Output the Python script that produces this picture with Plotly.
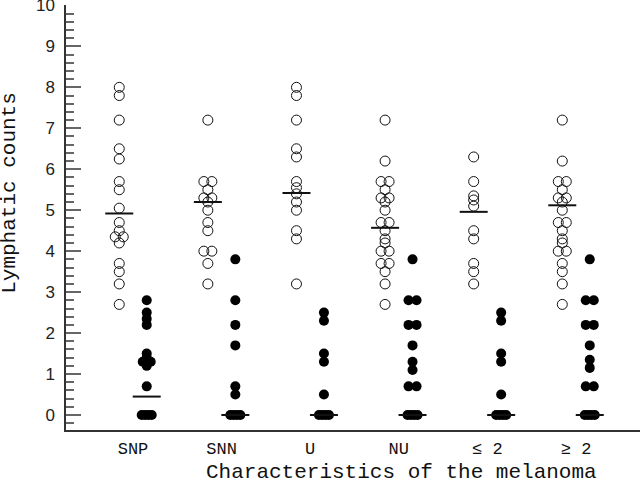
import plotly.graph_objects as go

categories = ["SNP", "SNN", "U", "NU", "≤ 2", "≥ 2"]

snp_open = [8.0, 7.8, 7.2, 6.5, 6.25, 5.7, 5.5, 5.05, 4.7, 4.5, 4.35, 4.35, 4.2, 3.7, 3.5, 3.2, 2.7]
snp_filled = [2.8, 2.5, 2.35, 2.2, 1.5, 1.4, 1.3, 1.3, 1.2, 0.7, 0, 0, 0, 0]
snn_open = [7.2, 5.7, 5.7, 5.5, 5.3, 5.3, 5.2, 5.0, 4.7, 4.5, 4.0, 4.0, 3.7, 3.2]
snn_filled = [3.8, 2.8, 2.2, 1.7, 0.7, 0.5, 0, 0, 0, 0]
u_open = [8.0, 7.8, 7.2, 6.5, 6.3, 5.7, 5.55, 5.4, 5.2, 5.0, 4.5, 4.3, 3.2]
u_filled = [2.5, 2.3, 1.5, 1.3, 0.5, 0, 0, 0, 0]
nu_open = [7.2, 6.2, 5.7, 5.7, 5.5, 5.3, 5.3, 5.2, 5.0, 4.7, 4.7, 4.5, 4.3, 4.2,
           4.0, 4.0, 3.7, 3.7, 3.5, 3.2, 2.7]
nu_filled = [3.8, 2.8, 2.8, 2.2, 2.2, 1.7, 1.3, 1.1, 0.7, 0.7, 0, 0, 0, 0]
le2_open = [6.3, 5.7, 5.35, 5.25, 5.1, 4.5, 4.3, 3.7, 3.5, 3.2]
le2_filled = [2.5, 2.3, 1.5, 1.3, 0.5, 0, 0, 0, 0]
ge2_open = [7.2, 6.2, 5.7, 5.7, 5.5, 5.3, 5.3, 5.2, 5.0, 4.7, 4.7, 4.5, 4.3, 4.2,
            4.0, 4.0, 3.7, 3.5, 3.2, 2.7]
ge2_filled = [3.8, 2.8, 2.8, 2.2, 2.2, 1.7, 1.35, 1.15, 0.7, 0.7, 0, 0, 0, 0]

open_means = [4.92, 5.2, 5.42, 4.57, 4.96, 5.12]
filled_means = [0.45, 0, 0, 0, 0, 0]

open_groups = [snp_open, snn_open, u_open, nu_open, le2_open, ge2_open]
filled_groups = [snp_filled, snn_filled, u_filled, nu_filled, le2_filled, ge2_filled]

PX_PER_X = 88.6
SIDE = 0.155
HALF_LINE = 0.158


def spread(vals, center):
    xs = []
    counts = {}
    for v in vals:
        counts[v] = counts.get(v, 0) + 1
    seen = {}
    for v in vals:
        n = counts[v]
        k = seen.get(v, 0)
        seen[v] = k + 1
        step = min(8.0, 10.0 / (n - 1)) if n > 1 else 0
        xs.append(center + (k - (n - 1) / 2) * step / PX_PER_X)
    return xs


fig = go.Figure()

for i, (og, fg) in enumerate(zip(open_groups, filled_groups)):
    fig.add_trace(go.Scatter(
        x=spread(og, i - SIDE), y=og, mode="markers",
        marker=dict(symbol="circle-open", size=10, color="#111",
                    line=dict(width=1, color="#111")),
        showlegend=False, hoverinfo="y"))
    fig.add_trace(go.Scatter(
        x=spread(fg, i + SIDE), y=fg, mode="markers",
        marker=dict(symbol="circle", size=10, color="#000"),
        showlegend=False, hoverinfo="y"))
    fig.add_trace(go.Scatter(
        x=[i - SIDE - HALF_LINE, i - SIDE + HALF_LINE], y=[open_means[i]] * 2,
        mode="lines", line=dict(color="#111", width=2), showlegend=False,
        hoverinfo="skip"))
    fig.add_trace(go.Scatter(
        x=[i + SIDE - HALF_LINE, i + SIDE + HALF_LINE], y=[filled_means[i]] * 2,
        mode="lines", line=dict(color="#111", width=2), showlegend=False,
        hoverinfo="skip"))

fig.update_layout(
    width=640, height=482,
    margin=dict(l=66, r=0, t=5, b=52, autoexpand=False),
    paper_bgcolor="white", plot_bgcolor="white",
    xaxis=dict(
        range=[-0.756, 5.722], tickmode="array", automargin=False,
        tickvals=list(range(len(categories))), ticktext=categories,
        showgrid=False, zeroline=False, showline=True, linecolor="#333",
        linewidth=1.5, ticks="", ticklabelstandoff=2,
        tickfont=dict(family="Liberation Mono, Courier New, monospace", size=17, color="#111"),
    ),
    yaxis=dict(
        range=[-0.366, 10.01], tickmode="linear", tick0=0, dtick=1, automargin=False,
        showgrid=False, zeroline=False, showline=True, linecolor="#333",
        linewidth=1.5, ticks="inside", ticklen=15, tickwidth=1.5, tickcolor="#666",
        minor=dict(ticks="inside", dtick=0.2, tick0=0, ticklen=8, tickwidth=1.5,
                   tickcolor="#666", showgrid=False),
        ticklabelstandoff=6, ticklabeloverflow="allow",
        tickfont=dict(family="Liberation Sans, Arial, sans-serif", size=17, color="#222"),
    ),
    annotations=[
        dict(text="Characteristics of the melanoma", xref="paper", yref="paper",
             x=0.585, y=-0.101, xanchor="center", yanchor="middle", showarrow=False,
             font=dict(family="Liberation Mono, Courier New, monospace", size=21, color="#111")),
        dict(text="Lymphatic counts", xref="paper", yref="paper", textangle=-90,
             x=-0.0976, y=0.558, xanchor="center", yanchor="middle", showarrow=False,
             font=dict(family="Liberation Mono, Courier New, monospace", size=21, color="#111")),
    ],
)

fig.write_html(
    "out.html",
    config={"displayModeBar": False},
    post_script="document.body.style.margin='0';document.body.style.overflow='hidden';",
)
